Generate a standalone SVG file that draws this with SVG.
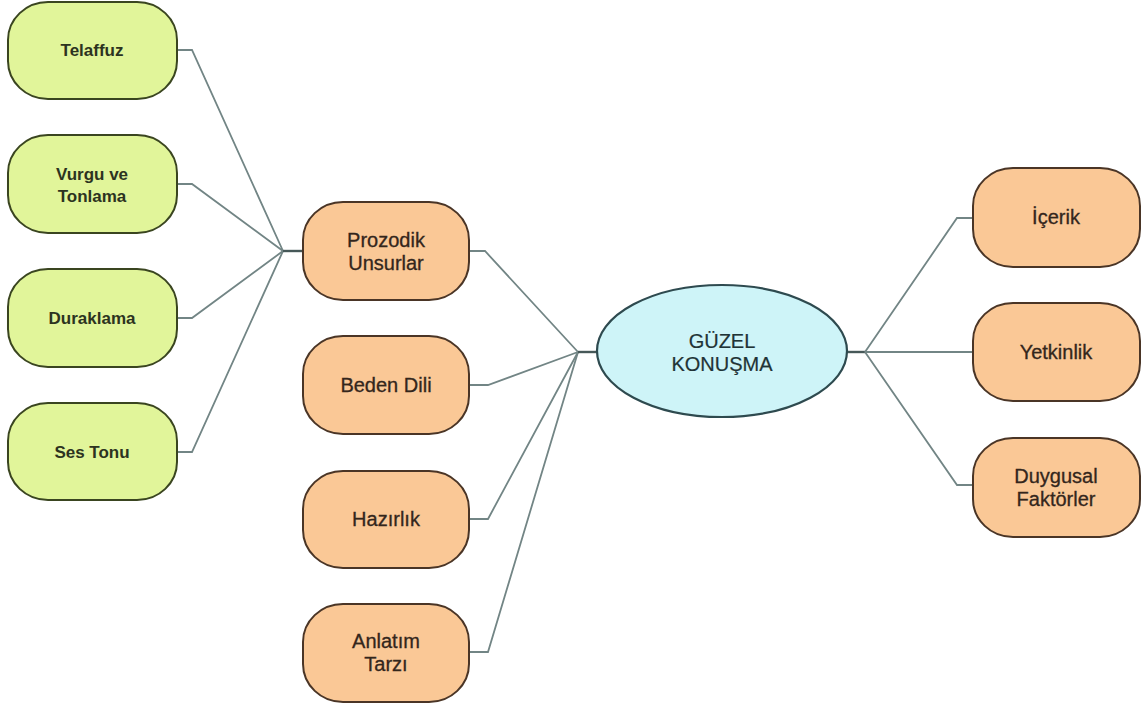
<svg xmlns="http://www.w3.org/2000/svg" width="1146" height="708" viewBox="0 0 1146 708">
<style>
.g{fill:#e1f59a;stroke:#3a4520;stroke-width:2}
.o{fill:#fac896;stroke:#4a3526;stroke-width:2}
.c{fill:#cef4f8;stroke:#2e4a4f;stroke-width:2.2}
.tg{font-family:"Liberation Sans",Arial,sans-serif;font-size:17px;font-weight:bold;fill:#2c3320;text-anchor:middle}
.to{font-family:"Liberation Sans",Arial,sans-serif;font-size:20px;fill:#33261c;stroke:#33261c;stroke-width:0.3;text-anchor:middle}
.tc{font-family:"Liberation Sans",Arial,sans-serif;font-size:20px;fill:#1f3336;stroke:#1f3336;stroke-width:0.2;text-anchor:middle}
.ln{fill:none;stroke:#728585;stroke-width:1.8}
.st{fill:none;stroke:#465858;stroke-width:2.4}
</style>
<rect width="1146" height="708" fill="#ffffff"/>
<g id="connectors">
<polyline class="ln" points="177,50 192,50 283,251"/>
<polyline class="ln" points="177,184 192,184 283,251"/>
<polyline class="ln" points="177,318 192,318 283,251"/>
<polyline class="ln" points="177,452 192,452 283,251"/>
<line class="st" x1="283" y1="251" x2="303" y2="251"/>
<polyline class="ln" points="469,251 485,251 578,352"/>
<polyline class="ln" points="469,385 488,385 578,352"/>
<polyline class="ln" points="469,519 488,519 578,352"/>
<polyline class="ln" points="469,652 488,652 578,352"/>
<line class="st" x1="578" y1="352" x2="597" y2="352"/>
<line class="st" x1="847" y1="352" x2="865" y2="352"/>
<polyline class="ln" points="865,352 957,218 973,218"/>
<line class="ln" x1="865" y1="352" x2="973" y2="352"/>
<polyline class="ln" points="865,352 957,485 973,485"/>
</g>
<g id="telaffuz"><rect class="g" x="8" y="2" width="169" height="97" rx="40" ry="38"/><text class="tg" x="92" y="56">Telaffuz</text></g>
<g id="vurgu"><rect class="g" x="8" y="135" width="169" height="98" rx="40" ry="38"/><text class="tg" x="92" y="180">Vurgu ve</text><text class="tg" x="92" y="202">Tonlama</text></g>
<g id="duraklama"><rect class="g" x="8" y="269" width="169" height="98" rx="40" ry="38"/><text class="tg" x="92" y="324">Duraklama</text></g>
<g id="sestonu"><rect class="g" x="8" y="403" width="169" height="97" rx="40" ry="38"/><text class="tg" x="92" y="458">Ses Tonu</text></g>
<g id="prozodik"><rect class="o" x="303" y="202" width="166" height="98" rx="40" ry="38"/><text class="to" x="386" y="247">Prozodik</text><text class="to" x="386" y="270">Unsurlar</text></g>
<g id="beden"><rect class="o" x="303" y="336" width="166" height="98" rx="40" ry="38"/><text class="to" x="386" y="392">Beden Dili</text></g>
<g id="hazirlik"><rect class="o" x="303" y="471" width="166" height="97" rx="40" ry="38"/><text class="to" x="386" y="526">Hazırlık</text></g>
<g id="anlatim"><rect class="o" x="303" y="604" width="166" height="98" rx="40" ry="38"/><text class="to" x="386" y="648">Anlatım</text><text class="to" x="386" y="671">Tarzı</text></g>
<g id="guzel"><ellipse class="c" cx="722" cy="351" rx="125" ry="66"/><text class="tc" x="722" y="348">GÜZEL</text><text class="tc" x="722" y="371">KONUŞMA</text></g>
<g id="icerik"><rect class="o" x="973" y="168" width="167" height="99" rx="40" ry="38"/><text class="to" x="1056" y="224">İçerik</text></g>
<g id="yetkinlik"><rect class="o" x="973" y="303" width="167" height="98" rx="40" ry="38"/><text class="to" x="1056" y="359">Yetkinlik</text></g>
<g id="duygusal"><rect class="o" x="973" y="438" width="167" height="99" rx="40" ry="38"/><text class="to" x="1056" y="483">Duygusal</text><text class="to" x="1056" y="506">Faktörler</text></g>
</svg>
